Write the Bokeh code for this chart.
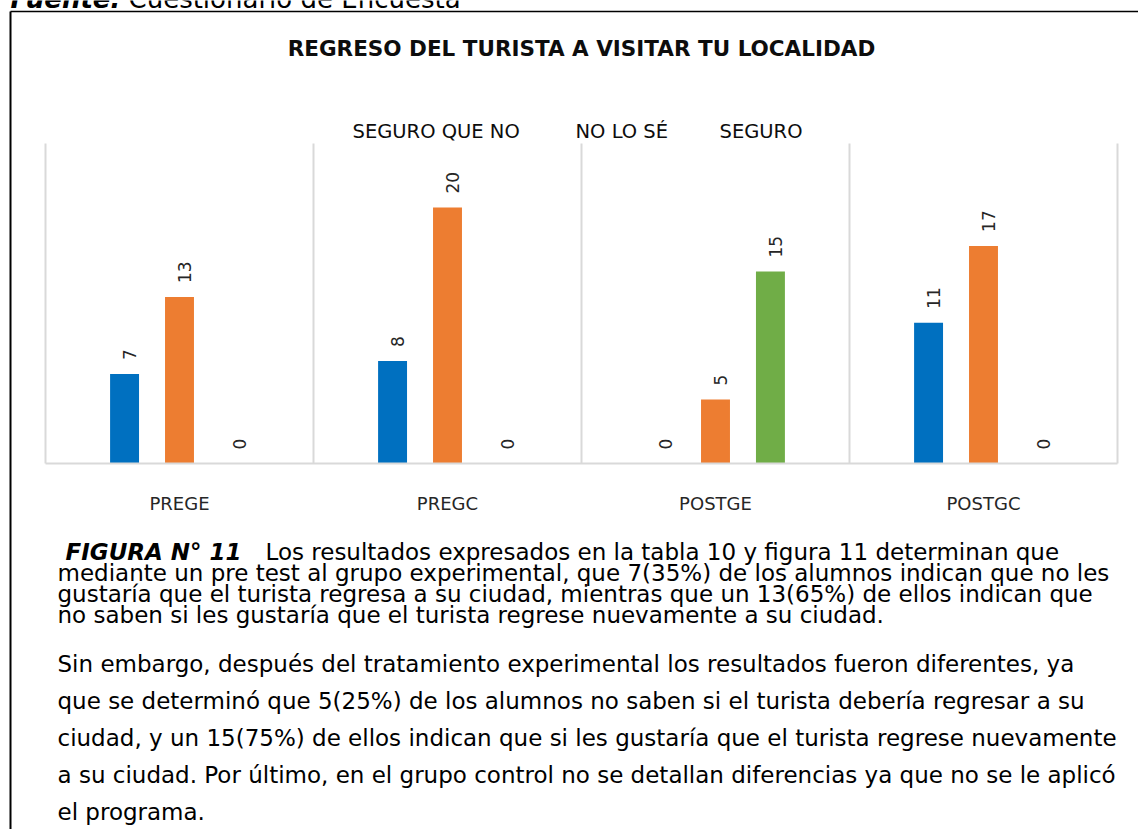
import math
from bokeh.plotting import figure
from bokeh.models import Range1d, ColumnDataSource, LinearAxis, FixedTicker
from bokeh.transform import dodge
from bokeh.core.properties import value
from bokeh.embed import file_html
from bokeh.resources import INLINE

# ---------------- data ----------------
categories = ["PREGE", "PREGC", "POSTGE", "POSTGC"]
series_names = ["SEGURO QUE NO", "NO LO SÉ", "SEGURO"]
seguro_que_no = [7, 8, 0, 11]
no_lo_se = [13, 20, 5, 17]
seguro = [0, 0, 15, 0]
series_values = [seguro_que_no, no_lo_se, seguro]
colors = ["#0070C0", "#ED7D31", "#70AD47"]

source_bold = "Fuente:"
source_text = "Cuestionario de Encuesta"
title_text = "REGRESO DEL TURISTA A VISITAR TU LOCALIDAD"
caption_bold = "FIGURA N°  11"
caption_first = "Los resultados expresados en la tabla 10  y figura 11  determinan que"
paragraph1 = [
    "mediante un pre test al grupo experimental, que 7(35%) de los alumnos indican que no les",
    "gustaría que el turista regresa a su ciudad, mientras que un 13(65%) de ellos indican que",
    "no saben si les gustaría que el turista regrese nuevamente a su ciudad.",
]
paragraph2 = [
    "Sin embargo, después del tratamiento experimental los resultados fueron diferentes, ya",
    "que se determinó que 5(25%) de los alumnos no saben si el turista debería regresar a su",
    "ciudad, y un 15(75%) de ellos indican que si les gustaría que el turista regrese nuevamente",
    "a su ciudad. Por último, en el grupo control no se detallan diferencias ya que no se le aplicó",
    "el programa.",
]

FONT = "DejaVu Sans"

# ---------------- layout (page pixels) ----------------
W, H = 1138, 829
PL, PR, PT, PB = 45, 1117, 143, 463   # plot area of the chart
YMAX = 25
n = len(categories)
ppx = (PR - PL) / n
ppy = (PB - PT) / YMAX

p = figure(
    width=W, height=H,
    x_range=Range1d(-PL / ppx, n + (W - PR) / ppx),
    y_range=Range1d(-(H - PB) / ppy, PB / ppy),
    x_axis_location=None, y_axis_location=None,
    min_border=0,
    output_backend="svg", toolbar_location=None,
)
p.extra_x_ranges = {"px": Range1d(0, W)}
p.extra_y_ranges = {"px": Range1d(H, 0)}
p.outline_line_color = None
p.background_fill_color = "white"
p.border_fill_color = "white"
p.xgrid.grid_line_color = None
p.ygrid.grid_line_color = None

centers = [i + 0.5 for i in range(n)]

# category separators
seps = list(range(n + 1))
p.segment(x0=seps, y0=[0] * len(seps), x1=seps, y1=[YMAX] * len(seps),
          line_color="#D9D9D9", line_width=2)

# category axis at y = 0
xaxis = LinearAxis(
    fixed_location=0,
    ticker=FixedTicker(ticks=centers),
    major_label_overrides={c: name for c, name in zip(centers, categories)},
    bounds=(0, n),
)
xaxis.axis_line_color = "#D9D9D9"
xaxis.axis_line_width = 2
xaxis.major_tick_line_color = None
xaxis.minor_tick_line_color = None
xaxis.major_label_standoff = 23
xaxis.major_label_text_font = FONT
xaxis.major_label_text_font_size = "18px"
xaxis.major_label_text_color = "#262626"
p.add_layout(xaxis, "below")

offsets = [-0.205, 0.0, 0.205]
data = dict(xc=centers, cat=categories)
for k, vals in enumerate(series_values):
    data[f"v{k}"] = vals
    data[f"t{k}"] = [str(v) for v in vals]
src = ColumnDataSource(data)

for k in range(3):
    xd = dodge("xc", offsets[k])
    p.vbar(x=xd, top=f"v{k}", bottom=0, width=0.108, source=src,
           fill_color=colors[k], line_color=None)
    p.text(x=xd, y=f"v{k}", text=f"t{k}", source=src,
           angle=math.pi / 2, text_align="left", text_baseline="middle",
           x_offset=5, y_offset=-14,
           text_font=value(FONT), text_font_size="17px", text_color="#262626")


def ptext(x, y, text, size, style="normal", align="left", baseline="middle", color="#000000"):
    p.text(x=[x], y=[y], text=[text], x_range_name="px", y_range_name="px",
           text_font=value(FONT), text_font_size=size, text_font_style=style,
           text_align=align, text_baseline=baseline, text_color=color)


# source line (cut at the top edge, as in the scanned page)
ptext(10, -2, source_bold, "26px", style="bold italic", baseline="alphabetic")
ptext(128, -2, source_text, "26px", baseline="alphabetic")

# document frame lines
p.segment(x0=[10, 10], y0=[11, 11], x1=[W, 10], y1=[11, H],
          line_color="black", line_width=[1.5, 2],
          x_range_name="px", y_range_name="px")

# title and legend
ptext(581, 48, title_text, "21.5px", style="bold", align="center", color="#0d0d0d")
legend_x = [352, 575, 719]
for name, lx in zip(series_names, legend_x):
    ptext(lx, 131, name, "19.5px", color="#0d0d0d")

# caption paragraph
PFS = "23px"
ptext(65, 551, caption_bold, PFS, style="bold italic")
ptext(265, 551, caption_first, PFS)
for j, line in enumerate(paragraph1):
    ptext(57, 572 + 21.3 * j, line, PFS)
for j, line in enumerate(paragraph2):
    ptext(57, 663 + 37 * j, line, PFS)

open("out.html", "w").write(file_html(p, INLINE))
